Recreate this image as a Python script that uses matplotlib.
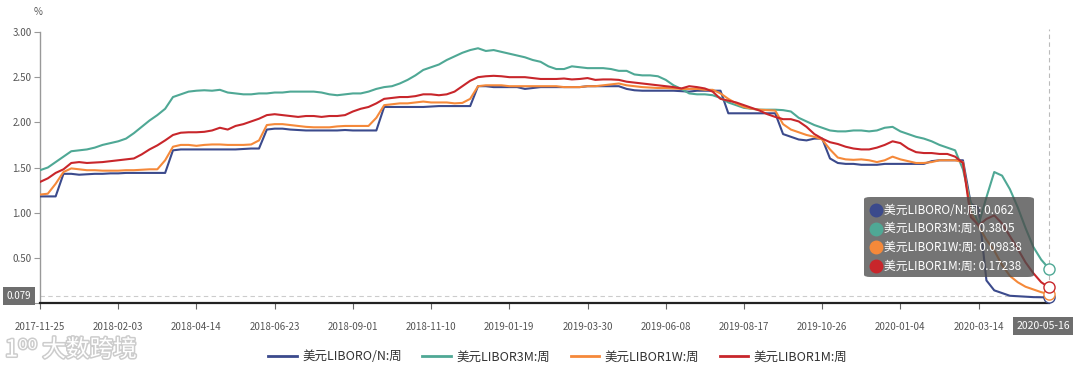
import matplotlib
matplotlib.use('Agg')
import matplotlib.pyplot as plt
import matplotlib.patheffects as pe
from matplotlib.lines import Line2D
from matplotlib.patches import FancyBboxPatch
import pandas as pd

plt.rcParams['font.family'] = ['Noto Sans CJK SC', 'DejaVu Sans']

# weekly dates, 2017-11-25 .. 2020-05-16
dates = pd.date_range('2017-11-25', periods=130, freq='7D').strftime('%Y-%m-%d').tolist()

libor_on = [1.18, 1.18, 1.18, 1.43, 1.43, 1.42, 1.425, 1.43, 1.43, 1.435,
            1.435, 1.44, 1.44, 1.44, 1.44, 1.44, 1.44, 1.69, 1.70, 1.70,
            1.70, 1.70, 1.70, 1.70, 1.70, 1.70, 1.705, 1.71, 1.71, 1.92,
            1.93, 1.93, 1.92, 1.915, 1.91, 1.91, 1.91, 1.91, 1.91, 1.915,
            1.91, 1.91, 1.91, 1.91, 2.17, 2.17, 2.17, 2.17, 2.17, 2.17,
            2.175, 2.18, 2.18, 2.18, 2.18, 2.18, 2.40, 2.40, 2.39, 2.39,
            2.39, 2.39, 2.37, 2.38, 2.39, 2.39, 2.39, 2.39, 2.39, 2.39,
            2.40, 2.40, 2.40, 2.40, 2.40, 2.37, 2.355, 2.35, 2.35, 2.35,
            2.35, 2.35, 2.345, 2.34, 2.35, 2.35, 2.35, 2.35, 2.10, 2.10,
            2.10, 2.10, 2.10, 2.10, 2.10, 1.87, 1.84, 1.81, 1.80, 1.82,
            1.82, 1.60, 1.55, 1.54, 1.54, 1.53, 1.53, 1.53, 1.54, 1.54,
            1.54, 1.54, 1.54, 1.54, 1.57, 1.58, 1.58, 1.58, 1.58, 1.10,
            1.05, 0.25, 0.14, 0.11, 0.08, 0.075, 0.07, 0.065, 0.063, 0.062]

libor_3m = [1.47, 1.50, 1.56, 1.62, 1.68, 1.69, 1.70, 1.72, 1.75, 1.77,
            1.79, 1.82, 1.88, 1.95, 2.02, 2.08, 2.15, 2.28, 2.31, 2.34,
            2.35, 2.355, 2.35, 2.36, 2.33, 2.32, 2.31, 2.31, 2.32, 2.32,
            2.33, 2.33, 2.34, 2.34, 2.34, 2.34, 2.33, 2.31, 2.30, 2.31,
            2.32, 2.32, 2.34, 2.37, 2.39, 2.40, 2.43, 2.47, 2.52, 2.58,
            2.61, 2.64, 2.69, 2.73, 2.77, 2.80, 2.82, 2.79, 2.80, 2.78,
            2.76, 2.74, 2.72, 2.69, 2.67, 2.62, 2.59, 2.59, 2.62, 2.61,
            2.60, 2.60, 2.60, 2.59, 2.57, 2.57, 2.53, 2.52, 2.52, 2.51,
            2.47, 2.41, 2.37, 2.32, 2.31, 2.31, 2.30, 2.27, 2.22, 2.19,
            2.16, 2.15, 2.14, 2.14, 2.14, 2.135, 2.12, 2.05, 2.01, 1.97,
            1.94, 1.91, 1.90, 1.90, 1.91, 1.91, 1.90, 1.91, 1.94, 1.95,
            1.90, 1.87, 1.84, 1.82, 1.79, 1.75, 1.72, 1.69, 1.48, 1.10,
            0.87, 1.17, 1.45, 1.41, 1.26, 1.06, 0.83, 0.62, 0.48, 0.3805]

libor_1w = [1.20, 1.21, 1.32, 1.45, 1.49, 1.48, 1.47, 1.47, 1.465, 1.465,
            1.465, 1.47, 1.47, 1.475, 1.48, 1.48, 1.58, 1.73, 1.75, 1.75,
            1.74, 1.75, 1.755, 1.755, 1.75, 1.75, 1.75, 1.755, 1.80, 1.97,
            1.98, 1.98, 1.97, 1.96, 1.95, 1.945, 1.945, 1.945, 1.955, 1.96,
            1.96, 1.96, 1.96, 2.05, 2.19, 2.20, 2.21, 2.21, 2.22, 2.23,
            2.22, 2.22, 2.22, 2.21, 2.215, 2.26, 2.40, 2.41, 2.41, 2.41,
            2.40, 2.40, 2.40, 2.40, 2.40, 2.40, 2.40, 2.39, 2.39, 2.39,
            2.40, 2.40, 2.41, 2.42, 2.43, 2.41, 2.40, 2.39, 2.385, 2.38,
            2.38, 2.375, 2.37, 2.37, 2.37, 2.36, 2.36, 2.32, 2.26, 2.21,
            2.17, 2.15, 2.14, 2.135, 2.13, 1.98, 1.92, 1.89, 1.86, 1.84,
            1.81, 1.70, 1.61, 1.59, 1.585, 1.59, 1.58, 1.56, 1.58, 1.62,
            1.59, 1.57, 1.55, 1.55, 1.56, 1.58, 1.58, 1.58, 1.56, 1.00,
            0.85, 0.70, 0.58, 0.42, 0.30, 0.23, 0.18, 0.15, 0.12, 0.09838]

libor_1m = [1.34, 1.38, 1.44, 1.48, 1.55, 1.56, 1.55, 1.555, 1.56, 1.57,
            1.58, 1.59, 1.60, 1.645, 1.70, 1.745, 1.80, 1.86, 1.885, 1.89,
            1.89, 1.895, 1.91, 1.94, 1.92, 1.96, 1.98, 2.01, 2.04, 2.08,
            2.09, 2.08, 2.07, 2.06, 2.07, 2.07, 2.06, 2.07, 2.07, 2.08,
            2.12, 2.15, 2.17, 2.21, 2.26, 2.27, 2.28, 2.28, 2.29, 2.31,
            2.31, 2.30, 2.31, 2.34, 2.40, 2.46, 2.50, 2.51, 2.515, 2.51,
            2.50, 2.50, 2.50, 2.49, 2.48, 2.48, 2.48, 2.485, 2.475, 2.48,
            2.49, 2.47, 2.475, 2.475, 2.47, 2.45, 2.44, 2.43, 2.42, 2.41,
            2.40, 2.39, 2.375, 2.40, 2.39, 2.375, 2.34, 2.26, 2.24, 2.22,
            2.19, 2.16, 2.13, 2.09, 2.06, 2.035, 2.035, 2.01, 1.95, 1.87,
            1.82, 1.78, 1.76, 1.73, 1.71, 1.70, 1.70, 1.72, 1.75, 1.79,
            1.77, 1.71, 1.67, 1.66, 1.66, 1.65, 1.65, 1.62, 1.55, 0.95,
            0.86, 0.93, 0.97, 0.88, 0.74, 0.60, 0.45, 0.33, 0.23, 0.17238]

series_names = ['美元LIBORO/N:周', '美元LIBOR3M:周', '美元LIBOR1W:周', '美元LIBOR1M:周']
series_vals = [libor_on, libor_3m, libor_1w, libor_1m]
tip_vals = ['0.062', '0.3805', '0.09838', '0.17238']
colors = ['#3b4a8c', '#4fa895', '#f5893a', '#c8262b']
cursor_y = 0.079

W, H = 1080, 371


def fx(x):
    return x / W


def fy(y):
    return 1 - y / H


fig = plt.figure(figsize=(W / 100, H / 100), dpi=100)
ax = fig.add_axes([fx(40), fy(303), fx(1049) - fx(40), fy(32) - fy(303)])

x = list(range(len(dates)))
for vals, c, name in zip(series_vals, colors, series_names):
    ax.plot(x, vals, color=c, lw=1.5, label=name, zorder=3)
    ax.plot(x[-1], vals[-1], marker='o', ms=8, mfc='white', mec=c, mew=1.0, zorder=4, clip_on=False)

ax.set_xlim(0, len(dates) - 1)
ax.set_ylim(0, 3)
yt = [0, 0.5, 1.0, 1.5, 2.0, 2.5, 3.0]
ax.set_yticks(yt)
ax.set_yticklabels([''] + ['%.2f' % v for v in yt[1:]])
ticks = list(range(0, len(dates), 10))
ax.set_xticks(ticks)
ax.set_xticklabels([dates[i] for i in ticks])

for s in ['top', 'right']:
    ax.spines[s].set_visible(False)
ax.spines['left'].set_color('#999999')
ax.spines['left'].set_linewidth(1.0)
ax.spines['bottom'].set_color('#222222')
ax.spines['bottom'].set_linewidth(1.6)
ax.tick_params(axis='y', colors='#999999', labelcolor='#555555', labelsize=7, length=4, width=0.8, pad=2)
ax.tick_params(axis='x', colors='#666666', labelcolor='#555555', labelsize=7, length=4, width=0.8, pad=10)

# crosshair
ax.axhline(cursor_y, color='#cccccc', lw=0.8, ls=(0, (4, 3)), zorder=1)
ax.plot([x[-1], x[-1]], [0, 3.03], color='#bbbbbb', lw=0.8, ls=(0, (4, 3)), zorder=1, clip_on=False)

fig.text(fx(38), fy(12), '%', fontsize=7, color='#555555', ha='center', va='center')

# axis pointer labels
fig.text(fx(19), fy(296), '%.3f' % cursor_y, fontsize=7, color='white', ha='center', va='center',
         bbox=dict(boxstyle='square,pad=0.4', fc='#6e6e6e', ec='none'))
fig.text(fx(1043), fy(326), dates[-1], fontsize=7.5, color='white', ha='center', va='center',
         bbox=dict(boxstyle='square,pad=0.35', fc='#6e6e6e', ec='none'))

# tooltip
tip = FancyBboxPatch((fx(864), fy(277)), fx(1034) - fx(864), fy(197) - fy(277),
                     boxstyle='round,pad=0,rounding_size=0.006', transform=fig.transFigure,
                     fc=(0.3, 0.3, 0.3, 0.78), ec='none', zorder=10)
fig.add_artist(tip)
for k, (name, v, c) in enumerate(zip(series_names, tip_vals, colors)):
    yy = 210 + k * 18.7
    fig.add_artist(Line2D([fx(876)], [fy(yy)], marker='o', ms=9, color=c, mec=c,
                          transform=fig.transFigure, zorder=11))
    fig.text(fx(884), fy(yy), '%s: %s' % (name, v), fontsize=8.5, color='white',
             ha='left', va='center', zorder=11)

# legend
handles = [Line2D([0], [0], color=c, lw=2) for c in colors]
fig.legend(handles, series_names, loc='center', bbox_to_anchor=(fx(558), fy(357)), ncol=4,
           frameon=False, fontsize=9, handlelength=2.3, handletextpad=0.45, columnspacing=1.6,
           labelcolor='#333333')

# watermark
fig.text(fx(5), fy(350), '1⁰⁰ 大数跨境', fontsize=17, color='white', ha='left', va='center',
         path_effects=[pe.withStroke(linewidth=2.2, foreground='#cccccc')])

fig.savefig('out.png', dpi=100)
